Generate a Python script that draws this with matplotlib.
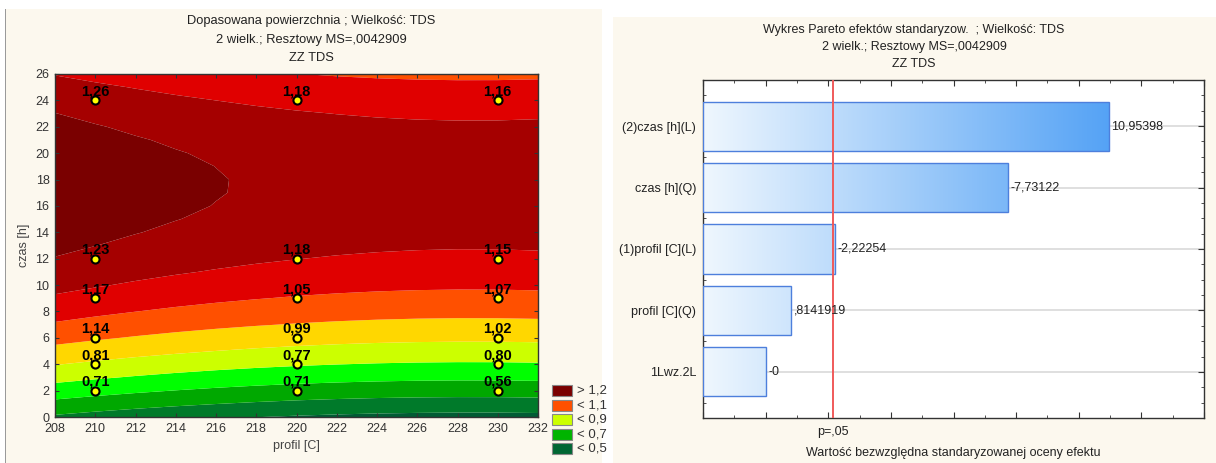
import numpy as np
import matplotlib
matplotlib.use("Agg")
import matplotlib.pyplot as plt
from matplotlib.patches import Rectangle
from matplotlib.colors import LinearSegmentedColormap
from matplotlib.ticker import MultipleLocator, NullFormatter
import matplotlib.transforms as mtransforms

plt.rcParams['font.family'] = ['Liberation Sans', 'DejaVu Sans']

# ---------------- data ----------------
profil = [210, 220, 230]
czas = [2, 4, 6, 9, 12, 24]
tds_210 = [0.71, 0.81, 1.14, 1.17, 1.23, 1.26]
tds_220 = [0.71, 0.77, 0.99, 1.05, 1.18, 1.18]
tds_230 = [0.56, 0.80, 1.02, 1.07, 1.15, 1.16]

contour_levels = [0.5, 0.6, 0.7, 0.8, 0.9, 1.0, 1.1, 1.2, 1.3]
band_colors = ['#005c34', '#007a2a', '#00a800', '#00ff00', '#ccff00',
               '#ffd700', '#ff5000', '#e00000', '#a50000', '#7a0000']
legend_labels = ['> 1,2', '< 1,1', '< 0,9', '< 0,7', '< 0,5']
legend_colors = ['#7a0000', '#ff5000', '#ccff00', '#00b400', '#006633']

effect_names = ['(2)czas [h](L)', 'czas [h](Q)', '(1)profil [C](L)',
                'profil [C](Q)', '1Lwz.2L']
effect_values = [10.95398, -7.73122, -2.22254, 0.8141919, -0.0]
effect_labels = ['10,95398', '-7,73122', '-2,22254', ',8141919', '-0']
p_crit = 2.16

W, H = 1216, 463
fig = plt.figure(figsize=(W / 100, H / 100), dpi=100)
fig.patch.set_facecolor('white')


def fx(x):
    return x / W


def fy(y):
    return 1 - y / H


cream = '#fcf8ee'
fig.add_artist(Rectangle((fx(5), 0), fx(602) - fx(5), fy(9), transform=fig.transFigure,
                         facecolor=cream, edgecolor='none', zorder=-10))
fig.add_artist(Rectangle((fx(5), 0), 0.0008, fy(9), transform=fig.transFigure,
                         facecolor='#9a9a9a', edgecolor='none', zorder=-9))
fig.add_artist(Rectangle((fx(613), 0), 1 - fx(613), fy(17), transform=fig.transFigure,
                         facecolor=cream, edgecolor='none', zorder=-10))

txtc = '#222222'

# ---------------- left: fitted surface ----------------
ax = fig.add_axes([fx(55), fy(417), fx(538) - fx(55), fy(74) - fy(417)])
tds = np.array([tds_210, tds_220, tds_230])
P, T = np.meshgrid(profil, czas, indexing='ij')
pc = (P.ravel() - 220.0)
tc = T.ravel().astype(float)
X = np.column_stack([np.ones_like(pc), pc, pc ** 2, tc, tc ** 2])
coef, *_ = np.linalg.lstsq(X, tds.ravel(), rcond=None)

pg = np.linspace(208, 232, 13)
tg = np.linspace(0, 26, 27)
PG, TG = np.meshgrid(pg, tg)
Z = (coef[0] + coef[1] * (PG - 220) + coef[2] * (PG - 220) ** 2
     + coef[3] * TG + coef[4] * TG ** 2)
lev = [-10] + contour_levels + [10]
ax.contourf(PG, TG, Z, levels=lev, colors=band_colors, antialiased=True)

ax.scatter(P.ravel(), T.ravel(), s=34, c='#ffff00', edgecolors='black',
           linewidths=1.5, zorder=5)
for i, p in enumerate(profil):
    for j, t in enumerate(czas):
        ax.annotate(f"{tds[i, j]:.2f}".replace('.', ','), (p, t), xytext=(0, 3.6),
                    textcoords='offset points', ha='center', va='baseline',
                    fontsize=10.5, fontweight='bold', color='black', zorder=6)

ax.set_xlim(208, 232)
ax.set_ylim(0, 26)
ax.set_xticks(np.arange(208, 233, 2))
ax.set_yticks(np.arange(0, 27, 2))
ax.tick_params(direction='in', top=True, right=True, length=3, labelsize=9,
               labelcolor='#333333', color='#333333', pad=4)
for s in ax.spines.values():
    s.set_color('#333333')
    s.set_linewidth(1.0)
ax.set_xlabel('profil [C]', fontsize=9, color='#444444', labelpad=4)
ax.set_ylabel('czas [h]', fontsize=9, color='#444444', labelpad=4)

for k, line in enumerate(['Dopasowana powierzchnia ; Wielkość: TDS',
                          '2 wielk.; Resztowy MS=,0042909', 'ZZ TDS']):
    fig.text(fx(311), fy(21 + 18.5 * k), line, ha='center', va='center',
             fontsize=9.3, color=txtc)

# legend
for k, (lab, col) in enumerate(zip(legend_labels, legend_colors)):
    yc = 390.5 + 14.6 * k
    fig.add_artist(Rectangle((fx(552), fy(yc + 5.5)), fx(572) - fx(552), 11 / H,
                             transform=fig.transFigure, facecolor=col,
                             edgecolor='#888888', linewidth=0.8))
    fig.text(fx(577), fy(yc), lab, ha='left', va='center', fontsize=9.5, color='#333333')

# ---------------- right: Pareto ----------------
ax2 = fig.add_axes([fx(703), fy(418), fx(1204) - fx(703), fy(80) - fy(418)])
ax2.set_facecolor('white')
ypos = np.arange(len(effect_names))
xmin, xmax = -2, 14
for y in ypos:
    ax2.axhline(y, color='#d9d9d9', linewidth=1.2, zorder=1)

grad_cmap = LinearSegmentedColormap.from_list('g', ['#eff7fe', '#52a1f5'])
gradient = np.linspace(0, 1, 256).reshape(1, -1)
bars = ax2.barh(ypos, [abs(v) - xmin for v in effect_values], left=xmin, height=0.8,
                facecolor='none', edgecolor='#4d7fdc', linewidth=1.0, zorder=4)
for b in bars:
    im = ax2.imshow(gradient, cmap=grad_cmap, aspect='auto',
                    extent=(xmin, 11.2, 4.75, -0.75), zorder=3, interpolation='bilinear')
    im.set_clip_path(b)

for y, v, lab in zip(ypos, effect_values, effect_labels):
    ax2.annotate(lab, (abs(v), y), xytext=(2, 0), textcoords='offset points',
                 ha='left', va='center', fontsize=9, color=txtc, zorder=6)

ax2.axvline(p_crit, color='#f05a5a', linewidth=1.4, zorder=5)

ax2.set_xlim(xmin, xmax)
ax2.set_ylim(4.75, -0.75)
ax2.set_xticks(np.arange(-2, 15, 2))
ax2.xaxis.set_major_formatter(NullFormatter())
ax2.xaxis.set_minor_locator(MultipleLocator(1))
ax2.set_yticks(ypos)
ax2.set_yticklabels(effect_names)
ax2.yaxis.set_minor_locator(MultipleLocator(0.25))
ax2.tick_params(which='both', direction='in', top=True, right=True, color='#333333')
ax2.tick_params(which='major', length=4, labelsize=9, labelcolor=txtc, pad=5)
ax2.tick_params(which='minor', length=2.5)
for s in ax2.spines.values():
    s.set_color('#333333')
    s.set_linewidth(1.0)

trans = mtransforms.blended_transform_factory(ax2.transData, ax2.transAxes)
ax2.text(p_crit, -0.025, 'p=,05', transform=trans, ha='center', va='top',
         fontsize=9, color=txtc)
fig.text(fx(953), fy(453), 'Wartość bezwzględna standaryzowanej oceny efektu',
         ha='center', va='center', fontsize=9, color=txtc)

for k, line in enumerate(['Wykres Pareto efektów standaryzow.  ; Wielkość: TDS',
                          '2 wielk.; Resztowy MS=,0042909', 'ZZ TDS']):
    fig.text(fx(914), fy(30 + 17 * k), line, ha='center', va='center',
             fontsize=9, color=txtc)

fig.savefig('out.png', dpi=100, facecolor=fig.get_facecolor())
